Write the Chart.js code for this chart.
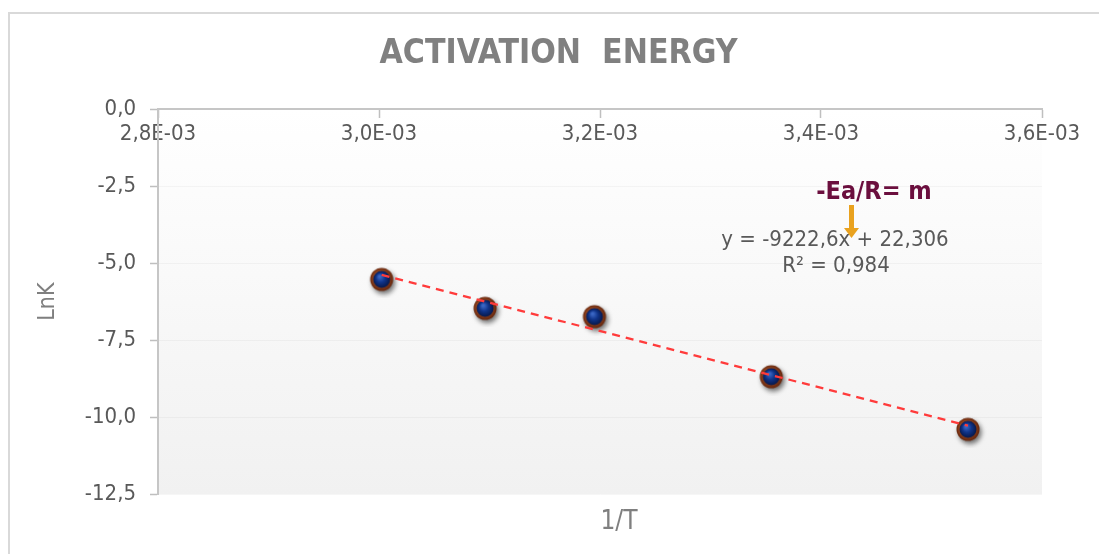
<!DOCTYPE html>
<html>
<head>
<meta charset="utf-8">
<script src="https://cdn.jsdelivr.net/npm/chart.js@4.4.1/dist/chart.umd.min.js"></script>
<style>
  html, body { margin: 0; padding: 0; background: #fff; }
  #wrap { width: 1099px; height: 554px; position: relative; }
</style>
</head>
<body>
<div id="wrap"><canvas id="chart-arrhenius"></canvas></div>
<script>
// ===== data =====
const invT = [0.0030024, 0.0030960, 0.0031950, 0.0033550, 0.0035330];
const lnK = [-5.53, -6.47, -6.74, -8.69, -10.40];

// trendline end points (y = -9222,6x + 22,306 as shown by Excel)
const trendX = [0.0030024, 0.0035330];
const trendY = [-5.385, -10.279];

const xTickValues = [0.0028, 0.0030, 0.0032, 0.0034, 0.0036];
const xTickLabels = ['2,8E-03', '3,0E-03', '3,2E-03', '3,4E-03', '3,6E-03'];
const yTickValues = [-12.5, -10, -7.5, -5, -2.5, 0];
const yTickLabels = ['-12,5', '-10,0', '-7,5', '-5,0', '-2,5', '0,0'];

const chartTitle = 'ACTIVATION  ENERGY';
const xTitle = '1/T';
const yTitle = 'LnK';
const eqLine1 = 'y = -9222,6x + 22,306';
const eqLine2 = 'R² = 0,984';
const noteText = '-Ea/R= m';

const FONT = "'DejaVu Sans Condensed', 'DejaVu Sans', sans-serif";

// marker: navy ball with a brown rim and a soft shadow
function makeMarker() {
  const c = document.createElement('canvas');
  c.width = 38; c.height = 38;
  const g = c.getContext('2d');
  const cx = 19, cy = 19;
  g.save();
  g.shadowColor = 'rgba(0,0,0,0.55)';
  g.shadowBlur = 5;
  g.shadowOffsetX = 2;
  g.shadowOffsetY = 3;
  const rim = g.createRadialGradient(cx - 2, cy - 2, 4, cx, cy, 12);
  rim.addColorStop(0, '#c0602a');
  rim.addColorStop(1, '#5e220c');
  g.fillStyle = rim;
  g.beginPath(); g.arc(cx, cy, 11.5, 0, Math.PI * 2); g.fill();
  g.restore();
  const ball = g.createRadialGradient(cx - 2, cy - 3, 1, cx, cy, 9);
  ball.addColorStop(0, '#3a66c4');
  ball.addColorStop(0.45, '#10348a');
  ball.addColorStop(1, '#071644');
  g.fillStyle = ball;
  g.beginPath(); g.arc(cx, cy, 8.5, 0, Math.PI * 2); g.fill();
  return c;
}

function tickLabel(values, labels, v) {
  const i = values.findIndex(t => Math.abs(t - v) < 1e-9);
  return i >= 0 ? labels[i] : '';
}

// frame + plot area gradient
const backdrop = {
  id: 'backdrop',
  beforeDraw(chart) {
    const { ctx, chartArea: a } = chart;
    ctx.save();
    ctx.strokeStyle = '#d9d9d9';
    ctx.lineWidth = 2;
    ctx.strokeRect(9, 13, 1200, 700);
    const grad = ctx.createLinearGradient(0, a.top, 0, a.bottom);
    grad.addColorStop(0, '#ffffff');
    grad.addColorStop(1, '#f1f1f1');
    ctx.fillStyle = grad;
    ctx.fillRect(a.left, a.top, a.right - a.left, a.bottom - a.top);
    ctx.restore();
  }
};

// x title, equation, note and arrow
const notes = {
  id: 'notes',
  afterDraw(chart) {
    const { ctx, chartArea: a } = chart;
    ctx.save();
    ctx.textAlign = 'center';
    ctx.textBaseline = 'middle';

    ctx.fillStyle = '#7f7f7f';
    ctx.font = '26px ' + FONT;
    ctx.fillText(xTitle, 619, a.bottom + 28);

    ctx.fillStyle = '#6b0f3e';
    ctx.font = 'bold 25px ' + FONT;
    ctx.fillText(noteText, 874, 192);

    ctx.fillStyle = '#595959';
    ctx.font = '22px ' + FONT;
    ctx.fillText(eqLine1, 835, 240);
    ctx.fillText(eqLine2, 836, 266);

    // orange arrow
    ctx.fillStyle = '#e9a21f';
    ctx.fillRect(849, 205, 5, 24);
    ctx.beginPath();
    ctx.moveTo(844, 228);
    ctx.lineTo(859, 228);
    ctx.lineTo(851.5, 238);
    ctx.closePath();
    ctx.fill();
    ctx.restore();
  }
};

const marker = makeMarker();

new Chart(document.getElementById('chart-arrhenius'), {
  type: 'scatter',
  data: {
    datasets: [
      {
        label: 'trend',
        data: trendX.map((x, i) => ({ x, y: trendY[i] })),
        showLine: true,
        borderColor: '#ff3b3b',
        borderWidth: 2.3,
        borderDash: [8, 6],
        pointRadius: 0,
        fill: false
      },
      {
        label: 'LnK',
        data: invT.map((x, i) => ({ x, y: lnK[i] })),
        pointStyle: marker,
        pointRadius: 12,
        showLine: false
      }
    ]
  },
  options: {
    responsive: true,
    maintainAspectRatio: false,
    animation: false,
    layout: { padding: { left: 18, right: 0, top: 0, bottom: 60 } },
    plugins: {
      legend: { display: false },
      tooltip: { enabled: false },
      title: {
        display: true,
        text: chartTitle,
        color: '#808080',
        font: { family: FONT, size: 33.5, weight: 'bold' },
        padding: { top: 34, bottom: 35 }
      }
    },
    scales: {
      x: {
        type: 'linear',
        position: { y: 0 },
        min: 0.0028,
        max: 0.0036,
        afterBuildTicks: s => { s.ticks = xTickValues.map(v => ({ value: v })); },
        ticks: {
          color: '#595959',
          font: { family: FONT, size: 22 },
          padding: 4,
          maxRotation: 0,
          callback: v => tickLabel(xTickValues, xTickLabels, v)
        },
        grid: { drawOnChartArea: false, tickLength: 8, tickColor: '#bfbfbf', tickWidth: 1.5 },
        border: { color: '#c6c6c6', width: 2 }
      },
      yRight: {
        type: 'linear',
        position: 'right',
        min: -12.5,
        max: 0,
        afterFit: s => { s.width = 57; },
        ticks: { display: false },
        grid: { display: false },
        border: { display: false }
      },
      y: {
        type: 'linear',
        position: 'left',
        min: -12.5,
        max: 0,
        afterFit: s => { s.width = 140; },
        afterBuildTicks: s => { s.ticks = yTickValues.map(v => ({ value: v })); },
        ticks: {
          color: '#595959',
          font: { family: FONT, size: 22 },
          padding: 14,
          callback: v => tickLabel(yTickValues, yTickLabels, v)
        },
        grid: { color: 'rgba(0,0,0,0.035)', tickLength: 8, tickColor: '#bfbfbf', tickWidth: 1.5 },
        border: { color: '#c6c6c6', width: 2 },
        title: {
          display: true,
          text: yTitle,
          color: '#7f7f7f',
          font: { family: FONT, size: 23 },
          padding: { top: 16, bottom: 0 }
        }
      }
    }
  },
  plugins: [backdrop, notes]
});
</script>
</body>
</html>
